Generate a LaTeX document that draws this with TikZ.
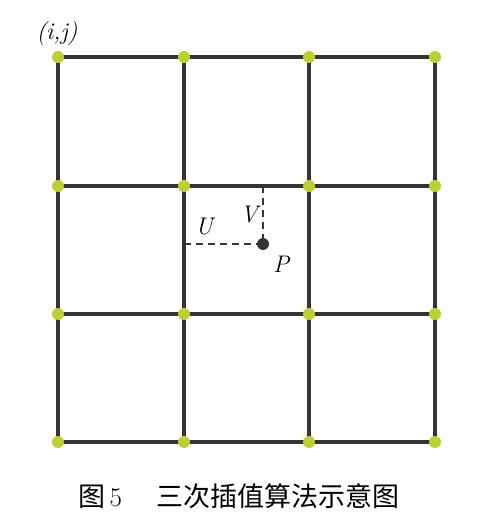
\documentclass[tikz,border=0pt]{standalone}
\usepackage{fontspec}
\newfontfamily\cjk{Noto Sans CJK SC}
\definecolor{dotgreen}{RGB}{188,208,52}
\definecolor{gridgray}{RGB}{52,52,52}

\begin{document}
\begin{tikzpicture}
				[
					x = 1pt, y = -1pt,
					gridline/.style = {draw = gridgray, line width = 3.4pt},
					knot/.style = {circle, fill = dotgreen, inner sep = 0pt, minimum size = 12pt},
					pdot/.style = {circle, fill = gridgray, inner sep = 0pt, minimum size = 12pt},
					offset/.style = {draw = gridgray, line width = 1.2pt, dash pattern = on 7pt off 5pt},
					lbl/.style = {font = \fontsize{24}{28}\selectfont\itshape, inner sep = 0pt}
				]
				\useasboundingbox (0,0) rectangle (491,529);
				% grid corners
				\foreach \i/\x in {0/58, 1/184, 2/309, 3/435}
					\foreach \j/\y in {0/57, 1/186, 2/314, 3/442}
						\coordinate (c-\i-\j) at (\x,\y);
				\foreach \k in {0,...,3}{
					\draw[gridline] (c-\k-0) -- (c-\k-3);
					\draw[gridline] (c-0-\k) -- (c-3-\k);
				}
				\foreach \i in {0,...,3}
					\foreach \j in {0,...,3}
						\node[knot] (g-\i-\j) at (c-\i-\j) {};
				% point P
				\node[pdot] (p) at (263,244) {};
				\coordinate (u) at (g-1-1 |- p);
				\coordinate (v) at (p |- g-1-1);
				\draw[offset] (u) -- (p);
				\draw[offset] (v) -- (p);
				\node[lbl] (ij) at (57,34) {(i,j)};
				\node[lbl] (ulbl) at (204,227) {U};
				\node[lbl] (vlbl) at (249,215) {V};
				\node[lbl] (plbl) at (281,264) {P};
				\node[lbl, font = \fontsize{27}{32}\selectfont] (caption) at (239,496)
					{{\cjk 图}\,5\hspace{1.3em}{\cjk 三次插值算法示意图}};
		\end{tikzpicture}
\end{document}
